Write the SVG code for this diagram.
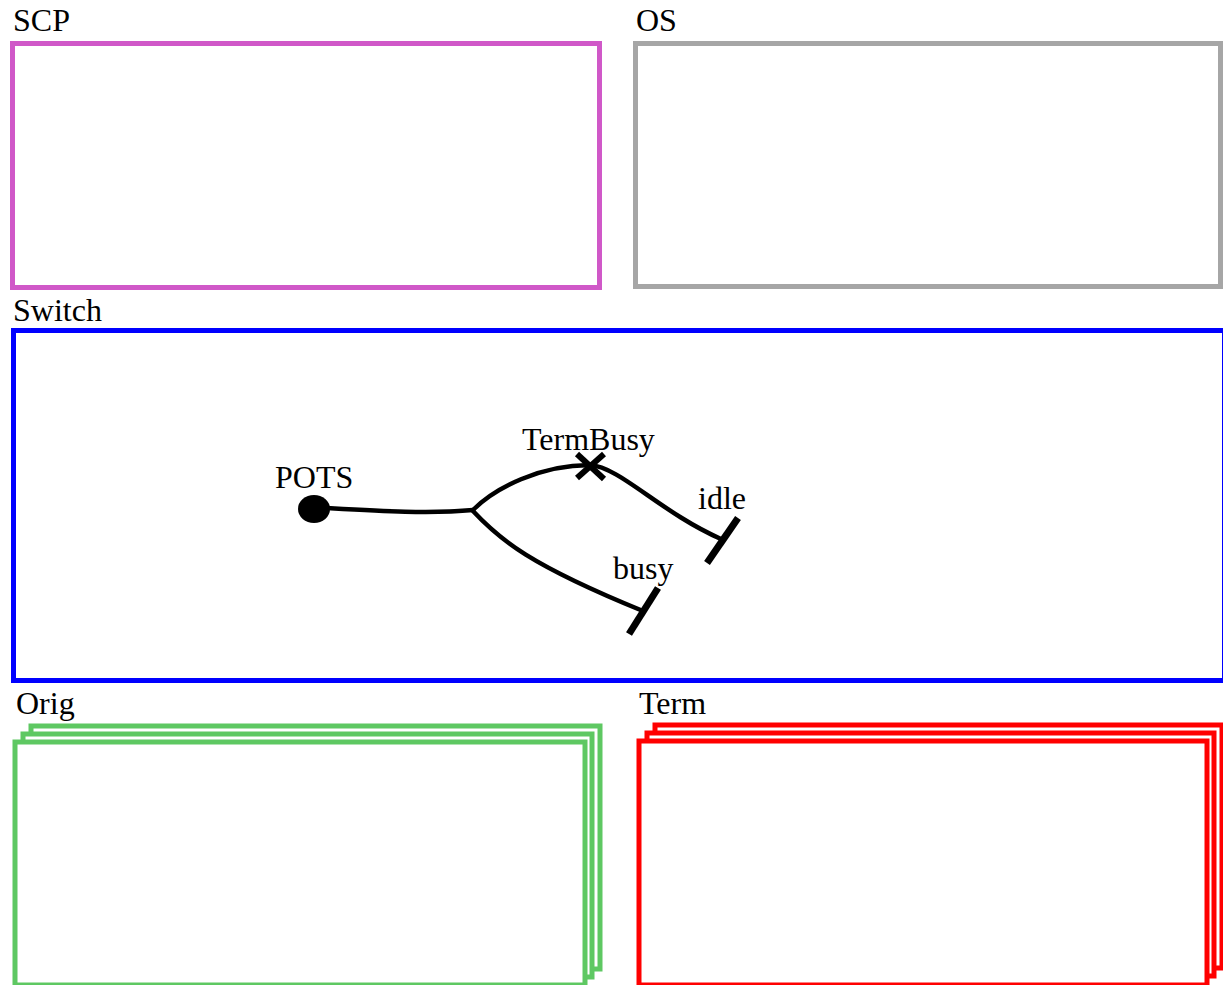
<svg xmlns="http://www.w3.org/2000/svg" width="1223" height="985" viewBox="0 0 1223 985">
  <style>
    text { font-family: "Liberation Serif", "Times New Roman", serif; font-size: 32px; fill: #000; }
    .box { fill: #fff; stroke-width: 5; }
    .scp { stroke: #d058c8; }
    .os { stroke: #a6a6a6; }
    .sw { stroke: #0000ff; }
    .orig { stroke: #5ec862; }
    .term { stroke: #ff0000; }
    .wire { fill: none; stroke: #000; stroke-width: 4.5; stroke-linecap: round; }
    .bar { stroke: #000; stroke-width: 7; }
    .cross { stroke: #000; stroke-width: 6; }
  </style>

  <!-- SCP lane -->
  <g id="scp">
    <text x="13" y="31">SCP</text>
    <rect class="box scp" x="12.5" y="43.5" width="587" height="244"/>
  </g>

  <!-- OS lane -->
  <g id="os">
    <text x="636" y="31">OS</text>
    <rect class="box os" x="635.5" y="43.5" width="585" height="243"/>
  </g>

  <!-- Switch lane -->
  <g id="switch">
    <text x="13" y="321">Switch</text>
    <rect class="box sw" x="13.5" y="330.5" width="1211" height="350"/>
  </g>

  <!-- Orig lane (stacked instances) -->
  <g id="orig">
    <text x="16" y="714">Orig</text>
    <rect class="box orig" x="31" y="726" width="569" height="243"/>
    <rect class="box orig" x="23" y="734" width="569" height="243"/>
    <rect class="box orig" x="15" y="742" width="570" height="243"/>
  </g>

  <!-- Term lane (stacked instances) -->
  <g id="term">
    <text x="639" y="714">Term</text>
    <rect class="box term" x="655" y="725" width="567" height="243"/>
    <rect class="box term" x="647" y="733" width="567" height="243"/>
    <rect class="box term" x="639" y="741" width="568" height="244"/>
  </g>

  <!-- Switch contents: POTS start point and branches -->
  <g id="pots">
    <ellipse cx="314" cy="509" rx="16" ry="14" fill="#000"/>
    <text x="275" y="488">POTS</text>
  </g>

  <g id="termbusy">
    <line class="cross" x1="577" y1="454" x2="604" y2="479"/>
    <line class="cross" x1="577" y1="478" x2="604" y2="454"/>
    <text x="522" y="450">TermBusy</text>
  </g>

  <g id="idle">
    <line class="bar" x1="707" y1="563" x2="738" y2="518"/>
    <text x="698" y="509">idle</text>
  </g>

  <g id="busy">
    <line class="bar" x1="629" y1="634" x2="658" y2="588"/>
    <text x="613" y="579">busy</text>
  </g>

  <g id="connectors">
    <path class="wire" d="M328,508 C380,511 430,514 473,510"/>
    <path class="wire" d="M473,510 C495,488 540,465 590,465 C620,467 660,512 721,539"/>
    <path class="wire" d="M473,511 C500,540 530,565 643,611"/>
  </g>
</svg>
